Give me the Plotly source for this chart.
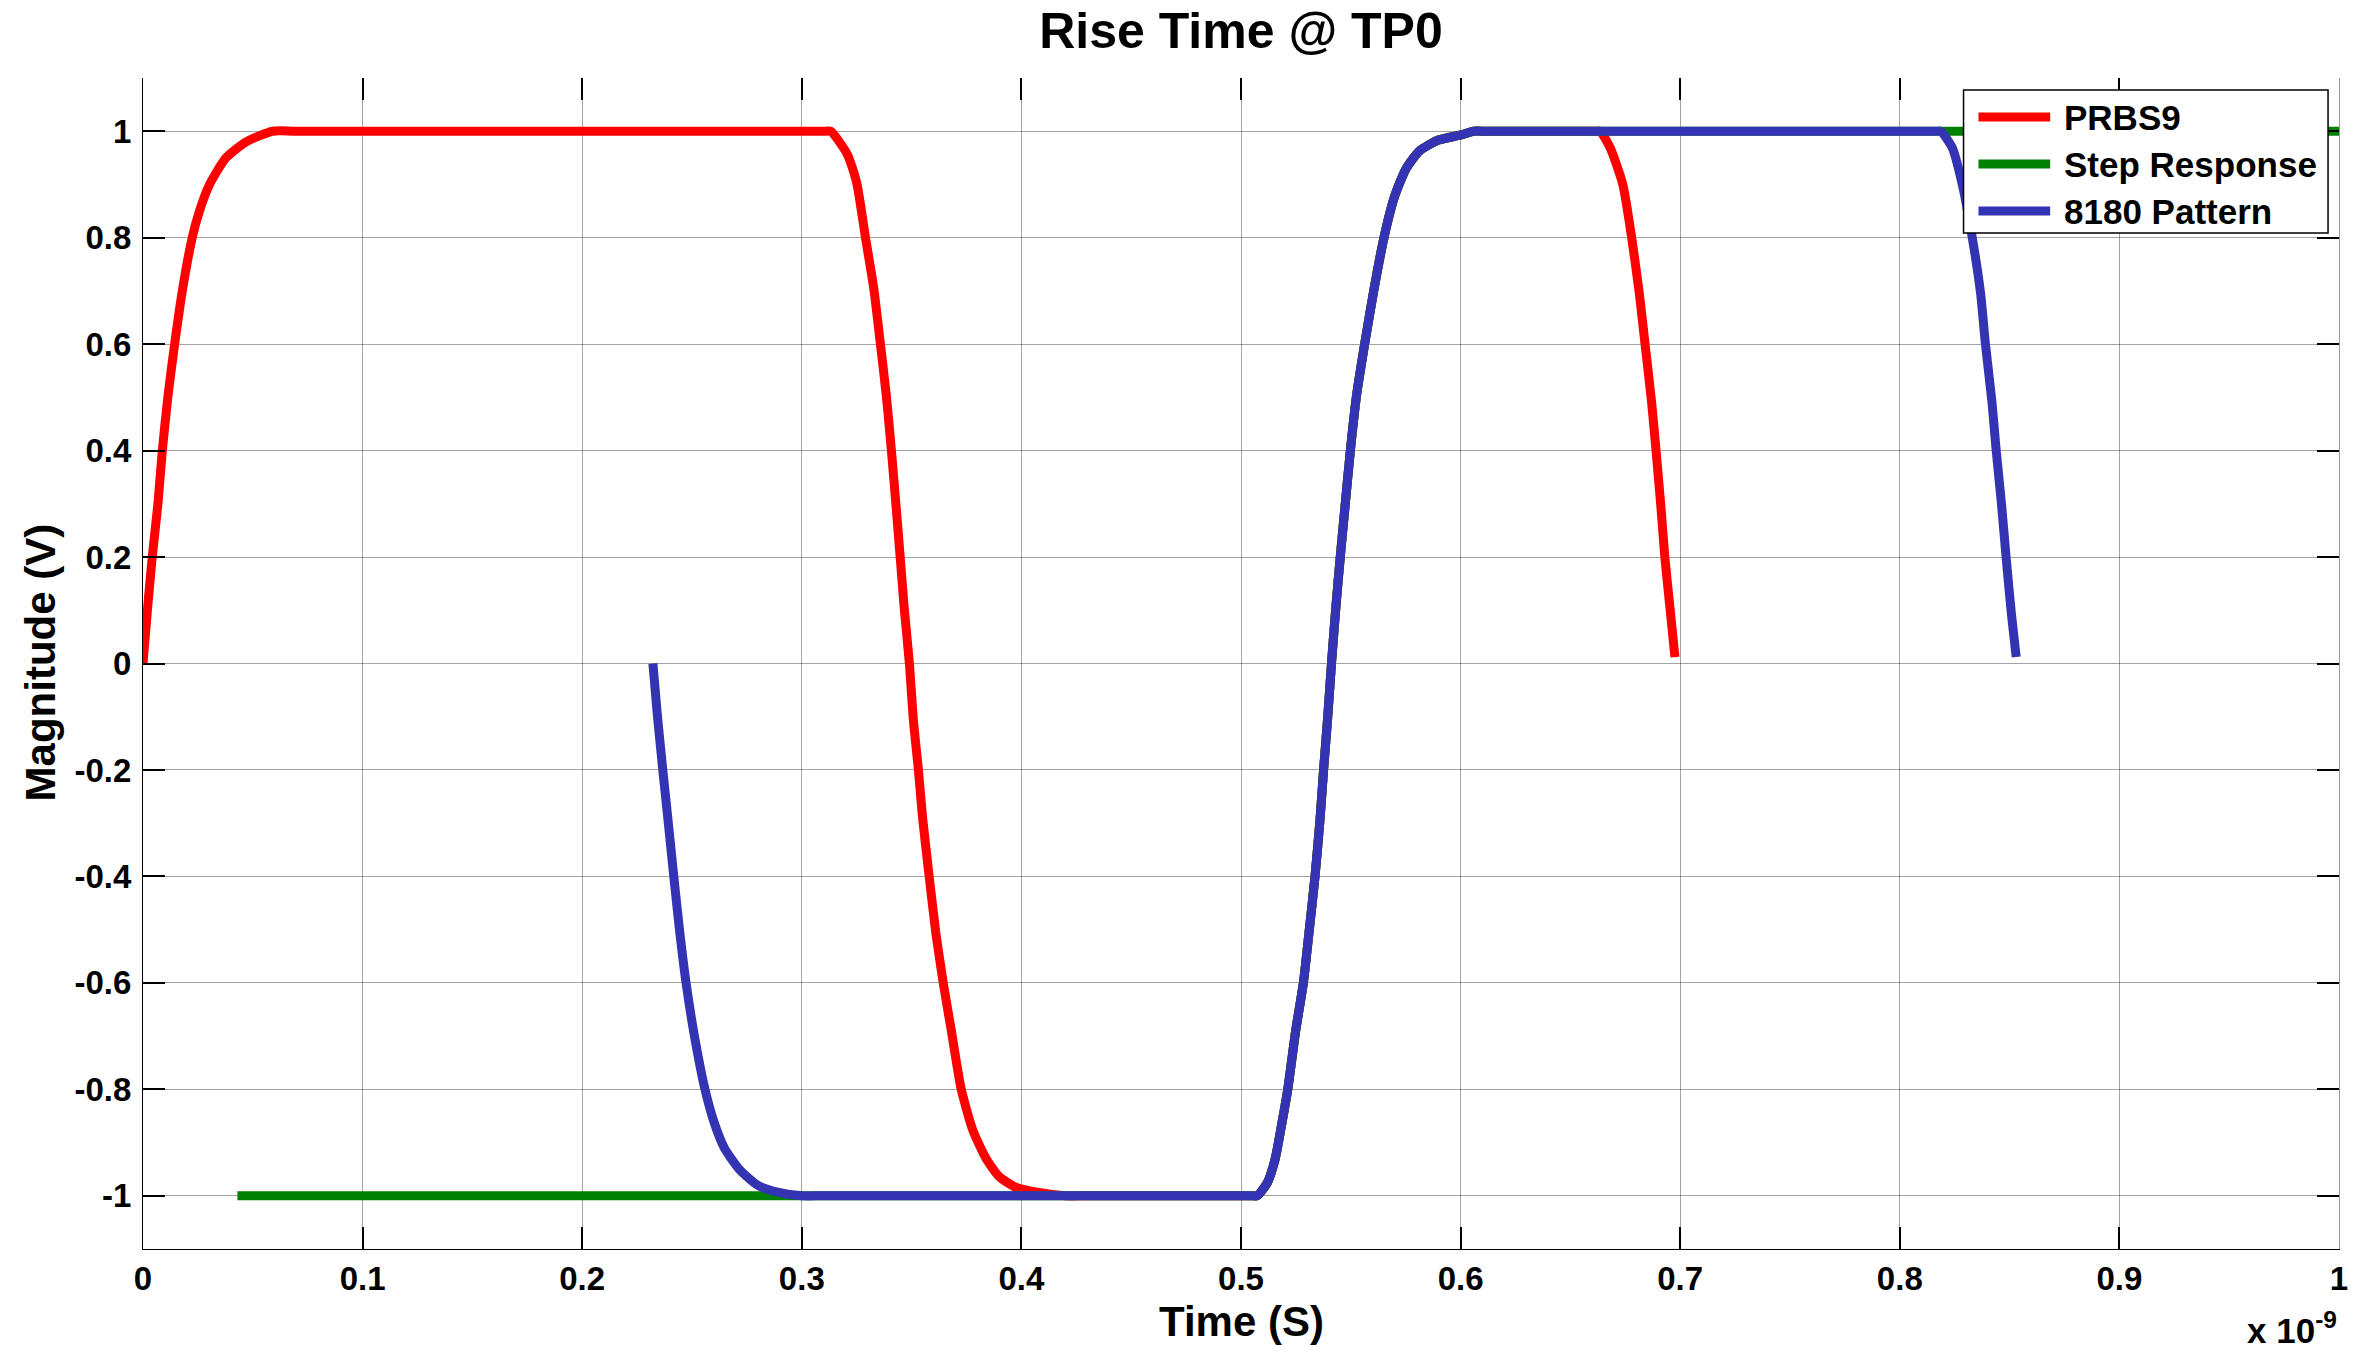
import plotly.graph_objects as go

# ---------------- data (time in units of 1e-9 s, magnitude in V) ----------------
# shared rising edge (~0.51 .. 0.60 ns)
edge_rise_t = [0.5050, 0.5073, 0.5118, 0.5156, 0.5186, 0.5213, 0.5249, 0.5284, 0.5310, 0.5337,
               0.5360, 0.5376, 0.5394, 0.5412, 0.5432, 0.5452, 0.5473, 0.5498, 0.5526,
               0.5563, 0.5606, 0.5651, 0.5699, 0.5752, 0.5813, 0.5896, 0.6002, 0.6060, 0.6120]
edge_rise_v = [-1.0, -1.0, -0.977, -0.93, -0.864, -0.8, -0.69, -0.6, -0.504, -0.4,
               -0.292, -0.2, -0.106, 0.0, 0.106, 0.2, 0.292, 0.4, 0.503,
               0.6, 0.704, 0.8, 0.877, 0.93, 0.963, 0.983, 0.993, 1.0, 1.0]

# PRBS9 (red)
prbs9_start_t = [0.0, 0.0020, 0.0042, 0.0068, 0.0088, 0.0113, 0.0144, 0.0179, 0.0224,
                 0.0257, 0.0303, 0.0378, 0.0470, 0.0590, 0.0700]
prbs9_start_v = [0.0, 0.1, 0.2, 0.3, 0.4, 0.5, 0.6, 0.7, 0.8, 0.85, 0.9, 0.95, 0.98, 1.0, 1.0]
prbs9_fall1_t = [0.3110, 0.3132, 0.3208, 0.3250, 0.3290, 0.3328, 0.3358, 0.3385, 0.3408, 0.3430,
                 0.3448, 0.3466, 0.3490, 0.3508, 0.3531, 0.3550, 0.3580, 0.3610, 0.3644,
                 0.3681, 0.3726, 0.3779, 0.3839, 0.3899, 0.3974, 0.4065, 0.4200, 0.4300]
prbs9_fall1_v = [1.0, 1.0, 0.956, 0.903, 0.8, 0.704, 0.6, 0.503, 0.4, 0.292,
                 0.2, 0.106, 0.0, -0.106, -0.2, -0.29, -0.4, -0.505, -0.6,
                 -0.69, -0.8, -0.877, -0.93, -0.964, -0.984, -0.993, -1.0, -1.0]
prbs9_fall2_t = [0.6615, 0.6635, 0.6681, 0.6738, 0.6779, 0.6814, 0.6840, 0.6870, 0.6890, 0.6911,
                 0.6930, 0.6956, 0.6976]
prbs9_fall2_v = [1.0, 1.0, 0.969, 0.901, 0.8, 0.695, 0.6, 0.49, 0.4, 0.3, 0.2, 0.094, 0.012]

# Step Response (green)
step_start_t = [0.043]
step_start_v = [-1.0]
step_end_t = [1.0]
step_end_v = [1.0]

# 8180 Pattern (blue)
p8180_fall1_t = [0.2322, 0.2342, 0.2367, 0.2393, 0.2417, 0.2443, 0.2473, 0.2511, 0.2559,
                 0.2599, 0.2647, 0.2715, 0.2798, 0.2889, 0.3000, 0.3100]
p8180_fall1_v = [0.0, -0.096, -0.2, -0.303, -0.4, -0.5, -0.6, -0.7, -0.8,
                 -0.86, -0.91, -0.95, -0.98, -0.993, -1.0, -1.0]
p8180_fall2_t = [0.8165, 0.8186, 0.8239, 0.8284, 0.8330, 0.8368, 0.8390, 0.8420, 0.8439, 0.8463,
                 0.8484, 0.8508, 0.8530]
p8180_fall2_v = [1.0, 1.0, 0.969, 0.901, 0.8, 0.695, 0.6, 0.49, 0.4, 0.3, 0.2, 0.094, 0.012]

series_names = ["PRBS9", "Step Response", "8180 Pattern"]
series_colors = ["#FF0000", "#008000", "#3333B3"]

x_ticks = [0, 0.1, 0.2, 0.3, 0.4, 0.5, 0.6, 0.7, 0.8, 0.9, 1.0]
x_tick_labels = ["0", "0.1", "0.2", "0.3", "0.4", "0.5", "0.6", "0.7", "0.8", "0.9", "1"]
y_ticks = [-1, -0.8, -0.6, -0.4, -0.2, 0, 0.2, 0.4, 0.6, 0.8, 1]
y_tick_labels = ["-1", "-0.8", "-0.6", "-0.4", "-0.2", "0", "0.2", "0.4", "0.6", "0.8", "1"]

# ---------------- assemble series ----------------
prbs9_t = prbs9_start_t + prbs9_fall1_t + edge_rise_t + prbs9_fall2_t
prbs9_v = prbs9_start_v + prbs9_fall1_v + edge_rise_v + prbs9_fall2_v
step_t = step_start_t + edge_rise_t + step_end_t
step_v = step_start_v + edge_rise_v + step_end_v
p8180_t = p8180_fall1_t + edge_rise_t + p8180_fall2_t
p8180_v = p8180_fall1_v + edge_rise_v + p8180_fall2_v

FONT = "Liberation Sans, Arial, Helvetica, sans-serif"
LW = 9

fig = go.Figure()
for name, t, v, c in zip(series_names, [prbs9_t, step_t, p8180_t], [prbs9_v, step_v, p8180_v], series_colors):
    fig.add_trace(go.Scatter(x=t, y=v, mode="lines", name=name,
                             line=dict(color=c, width=LW, shape="spline", smoothing=0.6),
                             showlegend=False))

# dummy trace to activate the mirrored (top/right) tick axes
fig.add_trace(go.Scatter(x=[None], y=[None], xaxis="x2", yaxis="y2", showlegend=False,
                         hoverinfo="skip"))

# plot area in pixels
W, H = 2360, 1351
L, R, T, B = 143, 2348, 78, 1249
pw, ph = R - L, B - T


def px_x(p):
    return (p - L) / pw


def px_y(p):
    return (B - p) / ph


grid_col = "rgba(0,0,0,0.36)"
tick_font = dict(family=FONT, size=33, color="black", weight="bold")

fig.update_layout(
    width=W, height=H,
    margin=dict(l=L, r=W - R, t=T, b=H - B),
    paper_bgcolor="white", plot_bgcolor="white",
    title=dict(text="Rise Time @ TP0", x=0.5, xref="paper", xanchor="center",
               y=1 - 30 / H, yref="container", yanchor="middle",
               font=dict(family=FONT, size=50, color="black", weight="bold")),
    xaxis=dict(range=[0, 1], tickvals=x_ticks, ticktext=x_tick_labels,
               showgrid=True, gridcolor=grid_col, gridwidth=1, zeroline=False,
               showline=True, linecolor="black", linewidth=1,
               ticks="inside", ticklen=22, tickwidth=1.5, tickcolor="black",
               tickfont=tick_font, ticklabelstandoff=0),
    yaxis=dict(range=[-1.1, 1.1], tickvals=y_ticks, ticktext=y_tick_labels,
               showgrid=True, gridcolor=grid_col, gridwidth=1, zeroline=False,
               showline=True, linecolor="black", linewidth=1,
               ticks="inside", ticklen=22, tickwidth=1.5, tickcolor="black",
               tickfont=tick_font, ticklabelstandoff=4),
    xaxis2=dict(range=[0, 1], overlaying="x", side="top", tickvals=x_ticks,
                showticklabels=False, showgrid=False, zeroline=False, showline=False,
                ticks="inside", ticklen=22, tickwidth=1.5, tickcolor="black"),
    yaxis2=dict(range=[-1.1, 1.1], overlaying="y", side="right", tickvals=y_ticks,
                showticklabels=False, showgrid=False, zeroline=False,
                showline=True, linecolor="rgba(0,0,0,0.4)", linewidth=1,
                ticks="inside", ticklen=22, tickwidth=1.5, tickcolor="black"),
    showlegend=False,
)

# axis titles and exponent
fig.add_annotation(text="Time (S)", xref="paper", yref="paper", x=0.5, y=px_y(1321),
                   xanchor="center", yanchor="middle", showarrow=False,
                   font=dict(family=FONT, size=42, color="black", weight="bold"))
fig.add_annotation(text="Magnitude (V)", xref="paper", yref="paper", x=px_x(40), y=px_y(662),
                   xanchor="center", yanchor="middle", textangle=-90, showarrow=False,
                   font=dict(family=FONT, size=42, color="black", weight="bold"))
fig.add_annotation(text="x 10<sup>-9</sup>", xref="paper", yref="paper", x=1.0, y=px_y(1328),
                   xanchor="right", yanchor="middle", showarrow=False,
                   font=dict(family=FONT, size=35, color="black", weight="bold"))

# custom legend box
fig.add_shape(type="rect", xref="paper", yref="paper",
              x0=px_x(1971), x1=px_x(2337), y0=px_y(233), y1=px_y(90),
              line=dict(color="black", width=1.5), fillcolor="white", layer="above")
row_y = [117, 164, 211]
for name, c, ry in zip(series_names, series_colors, row_y):
    fig.add_shape(type="line", xref="paper", yref="paper",
                  x0=px_x(1986), x1=px_x(2058), y0=px_y(ry), y1=px_y(ry),
                  line=dict(color=c, width=LW), layer="above")
    fig.add_annotation(text=name, xref="paper", yref="paper", x=px_x(2070), y=px_y(ry),
                       xanchor="left", yanchor="middle", showarrow=False,
                       font=dict(family=FONT, size=35, color="black", weight="bold"))

fig.write_html("out.html", config={"displayModeBar": False},
               post_script="document.body.style.margin='0';document.body.style.overflow='hidden';")
